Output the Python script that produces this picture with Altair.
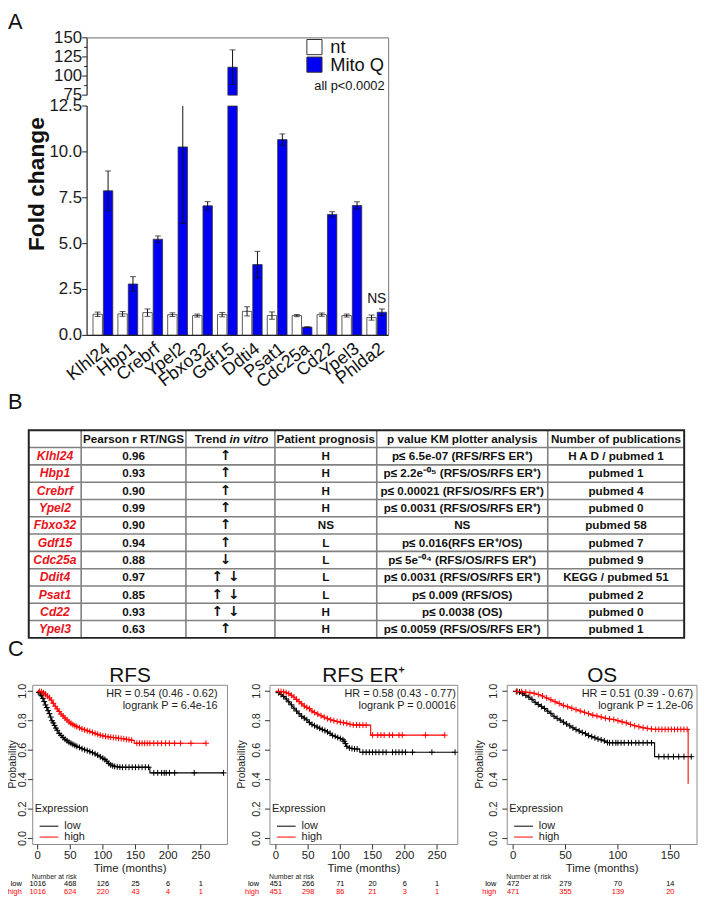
import altair as alt
import pandas as pd

# ======================= DATA =======================
# ---- Panel A ----
genes = ["Klhl24", "Hbp1", "Crebrf", "Ypel2", "Fbxo32", "Gdf15", "Ddti4",
         "Psat1", "Cdc25a", "Cd22", "Ypel3", "Phlda2"]
conds = ["nt", "Mito Q"]
nt_mean = [1.15, 1.17, 1.24, 1.13, 1.08, 1.13, 1.31, 1.08, 1.08, 1.13, 1.08, 0.97]
nt_err = [0.12, 0.13, 0.2, 0.1, 0.08, 0.12, 0.25, 0.2, 0.06, 0.09, 0.08, 0.14]
mq_mean = [7.88, 2.8, 5.24, 10.27, 7.06, 111.6, 3.86, 10.67, 0.45, 6.59, 7.08, 1.26]
mq_err = [1.08, 0.4, 0.18, 4.17, 0.23, 22.6, 0.72, 0.31, 0.02, 0.15, 0.2, 0.18]
ns_genes = ["Phlda2"]
low_ticks = [0, 2.5, 5, 7.5, 10, 12.5]
low_labels = ["0.0", "2.5", "5.0", "7.5", "10.0", "12.5"]
up_ticks = [75, 100, 125, 150]
up_labels = ["75", "100", "125", "150"]
up_minor = [87.5, 112.5, 137.5]
a_ytitle = "Fold change"
a_note = "all p<0.0002"

# ---- Panel B ----
tbl_header = ["", "Pearson r RT/NGS", "Trend in vitro", "Patient prognosis",
              "p value KM plotter analysis", "Number of publications"]
tbl_genes = ["Klhl24", "Hbp1", "Crebrf", "Ypel2", "Fbxo32", "Gdf15", "Cdc25a",
             "Ddit4", "Psat1", "Cd22", "Ypel3"]
tbl_pearson = ["0.96", "0.93", "0.90", "0.99", "0.90", "0.94", "0.88", "0.97",
               "0.85", "0.93", "0.63"]
tbl_trend = ["↑", "↑", "↑", "↑", "↑", "↑", "↓", "↑  ↓", "↑  ↓", "↑  ↓", "↑"]
tbl_prog = ["H", "H", "H", "H", "NS", "L", "L", "L", "L", "H", "H"]
tbl_pval = ["p≤ 6.5e-07 (RFS/RFS ER⁺)", "p≤ 2.2e⁻⁰⁵ (RFS/OS/RFS ER⁺)",
            "p≤ 0.00021 (RFS/OS/RFS ER⁺)", "p≤ 0.0031 (RFS/OS/RFS ER⁺)", "NS",
            "p≤ 0.016(RFS ER⁺/OS)", "p≤ 5e⁻⁰⁴ (RFS/OS/RFS ER⁺)",
            "p≤ 0.0031 (RFS/OS/RFS ER⁺)", "p≤ 0.009 (RFS/OS)", "p≤ 0.0038 (OS)",
            "p≤ 0.0059 (RFS/OS/RFS ER⁺)"]
tbl_pubs = ["H A D / pubmed 1", "pubmed 1", "pubmed 4", "pubmed 0", "pubmed 58",
            "pubmed 7", "pubmed 9", "KEGG / pubmed 51", "pubmed 2", "pubmed 0",
            "pubmed 1"]

# ---- Panel C ----
groups = ["low", "high"]
km_titles = ["RFS", "RFS ER⁺", "OS"]
km_hr = ["HR = 0.54 (0.46 - 0.62)", "HR = 0.58 (0.43 - 0.77)", "HR = 0.51 (0.39 - 0.67)"]
km_lr = ["logrank P = 6.4e-16", "logrank P = 0.00016", "logrank P = 1.2e-06"]
km_xticks = [[0, 50, 100, 150, 200, 250], [0, 50, 100, 150, 200, 250], [0, 50, 100, 150]]
nar_low = [[1016, 468, 126, 25, 6, 1], [451, 266, 71, 20, 6, 1], [472, 279, 70, 14]]
nar_high = [[1016, 624, 220, 43, 4, 1], [451, 298, 86, 21, 3, 1], [471, 355, 139, 20]]
prob_ticks = [0, 0.2, 0.4, 0.6, 0.8, 1.0]
prob_labels = ["0.0", "0.2", "0.4", "0.6", "0.8", "1.0"]

rfs_low_t = [0, 2, 4, 6, 8, 10, 12, 14, 16, 18, 20, 22, 24, 26, 28, 30, 33, 36, 39, 42,
             45, 48, 51, 54, 57, 60, 64, 68, 72, 76, 80, 84, 88, 92, 96, 100, 103, 106, 109, 112,
             115, 118, 122, 126, 130, 135, 140, 145, 150, 155, 160, 165, 170, 172, 172, 178, 184, 190, 194, 197,
             202, 210, 240, 285]
rfs_low_s = [1.0, 0.992, 0.982, 0.97, 0.952, 0.93, 0.907, 0.89, 0.868, 0.848,
             0.825, 0.80, 0.785, 0.768, 0.75, 0.735, 0.714, 0.70, 0.686, 0.674,
             0.664, 0.654, 0.647, 0.64, 0.633, 0.626, 0.619, 0.61, 0.603, 0.597,
             0.59, 0.583, 0.575, 0.566, 0.555, 0.545, 0.537, 0.525, 0.51, 0.50,
             0.494, 0.49, 0.487, 0.485, 0.484, 0.484, 0.484, 0.484, 0.484, 0.484,
             0.484, 0.484, 0.484, 0.484, 0.446, 0.446, 0.446, 0.446, 0.446, 0.446,
             0.446, 0.446, 0.446, 0.446]
rfs_high_t = [0, 3, 6, 9, 12, 15, 18, 21, 24, 27, 30, 33, 36, 39, 42, 45, 48, 51, 54, 57,
              60, 64, 68, 72, 76, 80, 84, 88, 92, 96, 100, 104, 108, 112, 116, 120, 124, 128, 132, 136,
              140, 144, 148, 148, 152, 156, 160, 164, 168, 172, 178, 184, 190, 196, 202, 210, 219, 235, 258]
rfs_high_s = [1.0, 0.999, 0.997, 0.99, 0.98, 0.967, 0.955, 0.94, 0.918, 0.898,
              0.88, 0.863, 0.845, 0.832, 0.818, 0.805, 0.792, 0.782, 0.774, 0.766,
              0.76, 0.752, 0.744, 0.738, 0.732, 0.727, 0.72, 0.714, 0.708, 0.702,
              0.697, 0.694, 0.69, 0.688, 0.686, 0.684, 0.681, 0.679, 0.677, 0.674,
              0.671, 0.668, 0.665, 0.647, 0.647, 0.647, 0.647, 0.647, 0.647, 0.647,
              0.647, 0.647, 0.647, 0.647, 0.647, 0.647, 0.647, 0.647, 0.647]
er_low_t = [0, 4, 8, 12, 16, 20, 24, 28, 32, 36, 40, 44, 48, 52, 56, 60, 64, 68, 72, 76,
            80, 84, 88, 92, 96, 100, 104, 106, 108, 110, 114, 118, 122, 126, 130, 130, 135, 140, 145, 150,
            155, 160, 166, 171, 181, 186, 191, 196, 201, 212, 242, 278]
er_low_s = [1.0, 0.99, 0.978, 0.965, 0.948, 0.928, 0.908, 0.885, 0.866, 0.848,
            0.83, 0.818, 0.806, 0.787, 0.775, 0.766, 0.757, 0.749, 0.74, 0.733,
            0.724, 0.714, 0.70, 0.694, 0.686, 0.679, 0.671, 0.66, 0.645, 0.626,
            0.615, 0.611, 0.608, 0.608, 0.608, 0.586, 0.586, 0.586, 0.586, 0.586,
            0.586, 0.586, 0.586, 0.586, 0.586, 0.586, 0.586, 0.586, 0.586, 0.586,
            0.586, 0.586]
er_high_t = [0, 4, 8, 12, 16, 20, 24, 28, 32, 36, 40, 44, 48, 52, 56, 60, 65, 70, 75, 80,
             85, 90, 95, 100, 105, 110, 115, 120, 125, 130, 135, 140, 147, 147, 150, 158, 163, 168, 176, 181,
             191, 196, 232, 262]
er_high_s = [1.0, 0.999, 0.998, 0.996, 0.99, 0.984, 0.973, 0.96, 0.945, 0.93,
             0.915, 0.9, 0.89, 0.882, 0.866, 0.856, 0.845, 0.834, 0.824, 0.814,
             0.806, 0.80, 0.795, 0.79, 0.786, 0.782, 0.776, 0.772, 0.771, 0.77,
             0.77, 0.77, 0.77, 0.702, 0.702, 0.702, 0.702, 0.702, 0.702, 0.702,
             0.702, 0.702, 0.702, 0.702]
os_low_t = [0, 3, 6, 9, 12, 15, 18, 21, 24, 27, 30, 33, 36, 39, 42, 45, 48, 51, 54, 57,
            60, 63, 66, 69, 72, 75, 78, 81, 84, 87, 90, 92, 95, 98, 100, 103, 106, 110, 113, 117,
            120, 124, 128, 132, 135, 135, 139, 144, 148, 153, 158, 163, 170]
os_low_s = [1.0, 0.998, 0.995, 0.985, 0.972, 0.96, 0.945, 0.925, 0.91, 0.897,
            0.883, 0.865, 0.85, 0.83, 0.816, 0.804, 0.79, 0.778, 0.765, 0.752,
            0.74, 0.73, 0.72, 0.712, 0.70, 0.692, 0.684, 0.676, 0.67, 0.663,
            0.652, 0.65, 0.65, 0.65, 0.65, 0.65, 0.65, 0.65, 0.65, 0.65,
            0.65, 0.65, 0.65, 0.65, 0.65, 0.556, 0.556, 0.556, 0.556, 0.556,
            0.556, 0.556, 0.556]
os_high_t = [0, 4, 8, 12, 16, 20, 24, 28, 32, 36, 40, 44, 48, 52, 56, 60, 64, 68, 72, 76,
             80, 84, 88, 92, 96, 100, 104, 108, 112, 116, 120, 124, 128, 132, 136, 139, 142, 145, 148, 151,
             154, 157, 160, 163, 166, 167, 167]
os_high_s = [1.0, 0.999, 0.997, 0.994, 0.99, 0.986, 0.978, 0.968, 0.955, 0.942,
             0.929, 0.917, 0.904, 0.895, 0.885, 0.875, 0.866, 0.857, 0.848, 0.838,
             0.832, 0.825, 0.817, 0.812, 0.808, 0.80, 0.792, 0.786, 0.775, 0.766,
             0.759, 0.752, 0.748, 0.744, 0.741, 0.741, 0.741, 0.741, 0.741, 0.741,
             0.741, 0.741, 0.741, 0.741, 0.741, 0.741, 0.372]
km_curves = [
    [(rfs_low_t, rfs_low_s), (rfs_high_t, rfs_high_s)],
    [(er_low_t, er_low_s), (er_high_t, er_high_s)],
    [(os_low_t, os_low_s), (os_high_t, os_high_s)],
]
for pair in km_curves:
    for tt, ss in pair:
        assert len(tt) == len(ss), (len(tt), len(ss))

# ======================= LAYOUT / STYLE =======================
M = 8
W, H = 699, 893
ARIAL = "Liberation Sans, Arial, Helvetica, sans-serif"
NARROW = "Liberation Sans Narrow, Arial Narrow, Liberation Sans, Arial, sans-serif"
BLUE = "#0000F2"
RED_TXT = "#E8141B"
TFS = 11.8  # table font size


def px(v):
    return alt.value(v - M)


dummy = pd.DataFrame({"d": [0]})
layers = []


def txt(text, x, y, **kw):
    return alt.Chart(dummy).mark_text(text=text, **kw).encode(x=px(x), y=px(y))


# ======================= PANEL A =======================
A_AX, A_R, A_TOP = 88, 393, 33
lowY = alt.Scale(domain=[0, 12.5], range=[334 - M, 102 - M], clamp=True, nice=False, zero=False)
upY = alt.Scale(domain=[75, 150], range=[91 - M, 33 - M], clamp=True, nice=False, zero=False)
geneX = alt.Scale(domain=genes, range=[91.4 - M, 393.6 - M], paddingInner=0, paddingOuter=0)
offX = alt.Scale(domain=conds, paddingInner=0.095, paddingOuter=0.246)
fillS = alt.Scale(domain=conds, range=["#FFFFFF", BLUE])

dfA = pd.DataFrame({"gene": genes * 2, "cond": [conds[0]] * len(genes) + [conds[1]] * len(genes),
                    "mean": nt_mean + mq_mean, "err": nt_err + mq_err})
dfA["lo"] = dfA["mean"] - dfA["err"]
dfA["hi"] = dfA["mean"] + dfA["err"]
cA = alt.Chart(dfA)
gx = alt.X("gene:N", scale=geneX, sort=genes, axis=None)
ox = alt.XOffset("cond:N", scale=offX, sort=conds)
fl_enc = alt.Fill("cond:N", scale=fillS, legend=None)

# lower segment
layers.append(cA.mark_bar(stroke="#333333", strokeWidth=0.8).encode(
    x=gx, xOffset=ox, y=alt.Y("mean:Q", scale=lowY, axis=None), fill=fl_enc))
layers.append(cA.transform_filter("datum.lo < 12.5").mark_rule(color="#111111", strokeWidth=1).encode(
    x=gx, xOffset=ox, y=alt.Y("lo:Q", scale=lowY, axis=None), y2="hi:Q"))
layers.append(cA.transform_filter("datum.lo < 12.5").mark_tick(color="#111111", size=6, thickness=1).encode(
    x=gx, xOffset=ox, y=alt.Y("lo:Q", scale=lowY, axis=None)))
layers.append(cA.transform_filter("datum.hi < 12.5").mark_tick(color="#111111", size=6, thickness=1).encode(
    x=gx, xOffset=ox, y=alt.Y("hi:Q", scale=lowY, axis=None)))
# upper segment
layers.append(cA.transform_filter("datum.mean > 75").mark_bar(stroke="#333333", strokeWidth=0.8).encode(
    x=gx, xOffset=ox, y=alt.Y("mean:Q", scale=upY, axis=None), y2=alt.datum(75), fill=fl_enc))
layers.append(cA.transform_filter("datum.hi > 75").mark_rule(color="#111111", strokeWidth=1).encode(
    x=gx, xOffset=ox, y=alt.Y("lo:Q", scale=upY, axis=None), y2="hi:Q"))
layers.append(cA.transform_filter("datum.lo > 75").mark_tick(color="#111111", size=6, thickness=1).encode(
    x=gx, xOffset=ox, y=alt.Y("lo:Q", scale=upY, axis=None)))
layers.append(cA.transform_filter("datum.hi > 75").mark_tick(color="#111111", size=6, thickness=1).encode(
    x=gx, xOffset=ox, y=alt.Y("hi:Q", scale=upY, axis=None)))

# NS annotation
dfNS = dfA[(dfA["gene"].isin(ns_genes)) & (dfA["cond"] == conds[1])]
layers.append(alt.Chart(dfNS).mark_text(text="NS", baseline="bottom", dy=-3, font=ARIAL, fontSize=14,
                                        color="#111111").encode(
    x=gx, y=alt.Y("hi:Q", scale=lowY, axis=None)))

# axes
layers.append(alt.Chart(dummy).mark_rule(color="#222222", strokeWidth=1.2).encode(
    x=px(A_AX), y=alt.YDatum(0, scale=lowY, axis=None), y2=alt.Y2Datum(12.5)))
layers.append(alt.Chart(dummy).mark_rule(color="#222222", strokeWidth=1.2).encode(
    x=px(A_AX), y=alt.YDatum(75, scale=upY, axis=None), y2=alt.Y2Datum(150)))
dfLT = pd.DataFrame({"v": low_ticks, "lab": low_labels})
dfUT = pd.DataFrame({"v": up_ticks, "lab": up_labels})
dfUM = pd.DataFrame({"v": up_minor})
for dfT, sc in ((dfLT, lowY), (dfUT, upY)):
    layers.append(alt.Chart(dfT).mark_rule(color="#222222", strokeWidth=1).encode(
        x=px(A_AX - 5), x2=px(A_AX), y=alt.Y("v:Q", scale=sc, axis=None)))
    layers.append(alt.Chart(dfT).mark_text(align="right", baseline="middle", font=ARIAL, fontSize=17,
                                           color="#1a1a1a").encode(
        x=px(A_AX - 5), y=alt.Y("v:Q", scale=sc, axis=None), text="lab:N"))
layers.append(alt.Chart(dfUM).mark_rule(color="#222222", strokeWidth=1).encode(
    x=px(A_AX - 3), x2=px(A_AX), y=alt.Y("v:Q", scale=upY, axis=None)))
# frame
layers.append(alt.Chart(dummy).mark_rule(color="#8a8a8a", strokeWidth=1.2).encode(
    x=px(A_AX), x2=px(A_R), y=px(A_TOP)))
layers.append(alt.Chart(dummy).mark_rule(color="#8a8a8a", strokeWidth=1.2).encode(
    x=px(A_R), y=px(A_TOP), y2=px(334)))
layers.append(alt.Chart(dummy).mark_rule(color="#222222", strokeWidth=1.2).encode(
    x=px(A_AX), x2=px(A_R), y=alt.YDatum(0, scale=lowY, axis=None)))

# gene labels
dfG = pd.DataFrame({"gene": genes})
layers.append(alt.Chart(dfG).mark_text(angle=322, align="right", baseline="middle", font=ARIAL,
                                       fontSize=18, color="#111111", dx=7).encode(
    x=alt.X("gene:N", scale=geneX, sort=genes, axis=None), y=px(350), text="gene:N"))
# y title
layers.append(txt(a_ytitle, 37, 181, angle=270, align="center", baseline="middle", font=ARIAL,
                  fontSize=23, fontWeight="bold", color="#111111"))
# legend
legY = alt.Scale(domain=conds, range=[33.5 - M, 69 - M], paddingInner=0, paddingOuter=0)
dfLeg = pd.DataFrame({"cond": conds})
layers.append(alt.Chart(dfLeg).mark_point(shape="square", size=235, filled=True, opacity=1,
                                          stroke="#333333", strokeWidth=1).encode(
    x=px(318), y=alt.Y("cond:N", scale=legY, axis=None), fill=fl_enc))
layers.append(alt.Chart(dfLeg).mark_text(align="left", baseline="middle", font=ARIAL, fontSize=18.5,
                                         color="#111111").encode(
    x=px(334), y=alt.Y("cond:N", scale=legY, axis=None), text="cond:N"))
layers.append(txt(a_note, 389, 82, align="right", baseline="middle", font=ARIAL, fontSize=13,
                  color="#111111"))
layers.append(txt("A", 8, 24, align="left", baseline="alphabetic", font=ARIAL, fontSize=22,
                  color="#111111"))

# ======================= PANEL B (table) =======================
COLS = [29, 82, 188, 278, 381, 554, 692]
TB_TOP, TB_BOT = 430, 640
HDR = "_hdr"
rowY = alt.Scale(domain=[HDR] + tbl_genes, range=[TB_TOP - M, TB_BOT - M], paddingInner=0, paddingOuter=0)
ry = alt.Y("row:N", scale=rowY, axis=None)

# row separators
dfRows = pd.DataFrame({"row": tbl_genes})
layers.append(alt.Chart(dfRows).mark_rule(color="#808080", strokeWidth=1.6).encode(
    x=px(COLS[0]), x2=px(COLS[-1]), y=alt.Y("row:N", scale=rowY, axis=None, bandPosition=0)))
for cx in COLS[1:-1]:
    layers.append(alt.Chart(dummy).mark_rule(color="#808080", strokeWidth=1.6).encode(
        x=px(cx), y=px(TB_TOP), y2=px(TB_BOT)))
layers.append(alt.Chart(dummy).mark_rect(fillOpacity=0, stroke="#222222", strokeWidth=2).encode(
    x=px(COLS[0]), x2=px(COLS[-1]), y=px(TB_TOP), y2=px(TB_BOT)))

col_vals = [tbl_genes, tbl_pearson, tbl_trend, tbl_prog, tbl_pval, tbl_pubs]
col_center = [(COLS[i] + COLS[i + 1]) / 2 for i in range(6)]
col_center[2] = 228
for ci in range(6):
    dfc = pd.DataFrame({"row": tbl_genes, "t": col_vals[ci]})
    if ci == 0:
        mk = dict(font=NARROW, fontSize=12.3, fontWeight="bold", fontStyle="italic", color=RED_TXT)
    elif ci == 2:
        mk = dict(font="DejaVu Sans", fontSize=14, fontWeight="bold", color="#111111")
    else:
        mk = dict(font=NARROW, fontSize=TFS, fontWeight="bold", color="#111111")
    layers.append(alt.Chart(dfc).mark_text(align="center", baseline="middle", **mk).encode(
        x=px(col_center[ci]), y=ry, text="t:N"))
    if ci not in (0, 2):
        dfh = pd.DataFrame({"row": [HDR], "t": [tbl_header[ci]]})
        layers.append(alt.Chart(dfh).mark_text(align="center", baseline="middle", font=NARROW,
                                               fontSize=TFS, fontWeight="bold", color="#111111").encode(
            x=px(col_center[ci]), y=ry, text="t:N"))
trend_words = tbl_header[2].split(" ", 1)
dfh1 = pd.DataFrame({"row": [HDR], "t": [trend_words[0]]})
dfh2 = pd.DataFrame({"row": [HDR], "t": [trend_words[1]]})
layers.append(alt.Chart(dfh1).mark_text(align="right", baseline="middle", font=NARROW, fontSize=TFS,
                                        fontWeight="bold", color="#111111").encode(x=px(229), y=ry, text="t:N"))
layers.append(alt.Chart(dfh2).mark_text(align="left", baseline="middle", font=NARROW, fontSize=TFS,
                                        fontWeight="bold", fontStyle="italic", color="#111111").encode(
    x=px(232), y=ry, text="t:N"))
layers.append(txt("B", 8, 408, align="left", baseline="alphabetic", font=ARIAL, fontSize=22,
                  color="#111111"))

# ======================= PANEL C (KM) =======================
colS = alt.Scale(domain=groups, range=["#000000", "#FF0000"])
KY = alt.Scale(domain=[0, 1], range=[843 - M, 694 - M], nice=False, zero=False)
KM_LAYOUT = [
    dict(xr=(38, 203), dom=(0, 250), fl=33, fr=230, hrx=220, probx=13.5, tlx=10),
    dict(xr=(279, 442), dom=(0, 250), fl=273, fr=463, hrx=461, probx=245, tlx=13),
    dict(xr=(519, 678), dom=(0, 150), fl=513, fr=705, hrx=701, probx=485, tlx=13),
]
FT, FB = 688, 849
legY2 = alt.Scale(domain=groups, range=[825 - M, 847 - M], paddingInner=0, paddingOuter=0)
narY = alt.Scale(domain=groups, range=[885 - M, 901 - M], paddingInner=0, paddingOuter=0)
dfProb = pd.DataFrame({"v": prob_ticks, "lab": prob_labels})
dfGroups = pd.DataFrame({"grp": groups})

for k in range(3):
    L = KM_LAYOUT[k]
    fl, fr = L["fl"], L["fr"]
    xs = alt.Scale(domain=list(L["dom"]), range=[L["xr"][0] - M, L["xr"][1] - M], nice=False, zero=False)
    # frame
    layers.append(alt.Chart(dummy).mark_rect(fillOpacity=0, stroke="#8c8c8c", strokeWidth=1).encode(
        x=px(fl), x2=px(fr), y=px(FT), y2=px(FB)))
    # curves
    rows, cens = [], []
    for g, (tt, ss) in zip(groups, km_curves[k]):
        n = len(tt)
        for i in range(n):
            rows.append({"grp": g, "t": tt[i], "s": ss[i], "i": i})
            dup = (i + 1 < n and tt[i + 1] == tt[i]) or (i > 0 and tt[i - 1] == tt[i])
            if tt[i] > 0 and not dup:
                cens.append({"grp": g, "t": tt[i], "s": ss[i]})
    dfK = pd.DataFrame(rows)
    dfC = pd.DataFrame(cens)
    layers.append(alt.Chart(dfK).mark_line(strokeWidth=1.1, interpolate="linear").encode(
        x=alt.X("t:Q", scale=xs, axis=None), y=alt.Y("s:Q", scale=KY, axis=None),
        color=alt.Color("grp:N", scale=colS, legend=None), order=alt.Order("i:Q")))
    layers.append(alt.Chart(dfC).mark_point(shape="M-1,0L1,0M0,-1L0,1", size=36, filled=False,
                                            strokeWidth=1, opacity=1).encode(
        x=alt.X("t:Q", scale=xs, axis=None), y=alt.Y("s:Q", scale=KY, axis=None),
        color=alt.Color("grp:N", scale=colS, legend=None)))
    # y axis
    layers.append(alt.Chart(dfProb).mark_rule(color="#333333", strokeWidth=1).encode(
        x=px(fl - 5), x2=px(fl), y=alt.Y("v:Q", scale=KY, axis=None)))
    layers.append(alt.Chart(dfProb).mark_text(angle=270, align="center", baseline="middle", font=ARIAL,
                                              fontSize=11, color="#222222").encode(
        x=px(fl - L["tlx"]), y=alt.Y("v:Q", scale=KY, axis=None), text="lab:N"))
    layers.append(txt("Probability", L["probx"], 768, angle=270, align="center", baseline="middle",
                      font=ARIAL, fontSize=10.5, color="#222222"))
    # x axis
    dfX = pd.DataFrame({"v": km_xticks[k]})
    layers.append(alt.Chart(dfX).mark_rule(color="#333333", strokeWidth=1).encode(
        x=alt.X("v:Q", scale=xs, axis=None), y=px(FB), y2=px(FB + 5)))
    layers.append(alt.Chart(dfX).mark_text(align="center", baseline="middle", font=ARIAL, fontSize=11.5,
                                           color="#222222").encode(
        x=alt.X("v:Q", scale=xs, axis=None), y=px(861), text="v:Q"))
    layers.append(txt("Time (months)", (fl + fr) / 2, 874, align="center", baseline="middle", font=ARIAL,
                      fontSize=11.5, color="#222222"))
    # HR / logrank
    layers.append(txt(km_hr[k], L["hrx"], 697, align="right", baseline="middle", font=ARIAL,
                      fontSize=11, color="#222222"))
    layers.append(txt(km_lr[k], L["hrx"], 709, align="right", baseline="middle", font=ARIAL,
                      fontSize=11, color="#222222"))
    # legend
    layers.append(txt("Expression", fl + 2, 813, align="left", baseline="middle", font=ARIAL,
                      fontSize=11, color="#222222"))
    layers.append(alt.Chart(dfGroups).mark_rule(strokeWidth=1).encode(
        x=px(fl + 7), x2=px(fl + 26), y=alt.Y("grp:N", scale=legY2, axis=None),
        color=alt.Color("grp:N", scale=colS, legend=None)))
    layers.append(alt.Chart(dfGroups).mark_text(align="left", baseline="middle", font=ARIAL,
                                                fontSize=11, color="#222222").encode(
        x=px(fl + 32), y=alt.Y("grp:N", scale=legY2, axis=None), text="grp:N"))
    # number at risk
    layers.append(txt("Number at risk", fl - 1, 882, align="left", baseline="middle", font=ARIAL,
                      fontSize=7, color="#222222"))
    layers.append(alt.Chart(dfGroups).mark_text(align="right", baseline="middle", font=ARIAL,
                                                fontSize=7.5).encode(
        x=px(fl - 11), y=alt.Y("grp:N", scale=narY, axis=None), text="grp:N",
        color=alt.Color("grp:N", scale=colS, legend=None)))
    nrows = []
    for g, vals in zip(groups, (nar_low[k], nar_high[k])):
        for t, n in zip(km_xticks[k], vals):
            nrows.append({"grp": g, "t": t, "n": n})
    dfN = pd.DataFrame(nrows)
    layers.append(alt.Chart(dfN).mark_text(align="center", baseline="middle", font=ARIAL,
                                           fontSize=7.5).encode(
        x=alt.X("t:Q", scale=xs, axis=None), y=alt.Y("grp:N", scale=narY, axis=None), text="n:Q",
        color=alt.Color("grp:N", scale=colS, legend=None)))
    # title
    layers.append(txt(km_titles[k], (fl + fr) / 2, 685, align="center", baseline="alphabetic",
                      font=ARIAL, fontSize=21, color="#111111"))

layers.append(txt("C", 8, 658, align="left", baseline="alphabetic", font=ARIAL, fontSize=22,
                  color="#111111"))

chart = alt.layer(*layers).resolve_scale(
    x="independent", y="independent", xOffset="independent"
).properties(
    width=W, height=H, autosize=alt.AutoSizeParams(type="none"), padding=0
).configure_view(stroke=None)

chart.save("out.html", embed_options={"renderer": "svg", "actions": False})
